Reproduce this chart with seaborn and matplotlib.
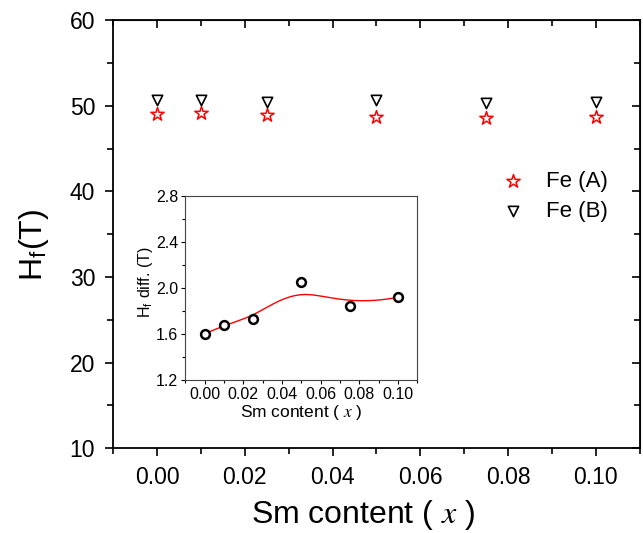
import numpy as np
import pandas as pd
import matplotlib
matplotlib.use("Agg")
import matplotlib.pyplot as plt
import seaborn as sns

# Sm content values
sm_content = [0.0, 0.01, 0.025, 0.05, 0.075, 0.10]
# hyperfine field (T) of the two Fe sites
hf_fe_a = [49.1, 49.2, 48.9, 48.7, 48.6, 48.7]
hf_fe_b = [50.65, 50.65, 50.4, 50.65, 50.3, 50.5]
# inset: field difference (T)
hf_diff = [1.60, 1.68, 1.73, 2.05, 1.84, 1.92]
tick_lbls = ['0.00', '0.02', '0.04', '0.06', '0.08', '0.10']


def bspline(px, py, n=300):
    # clamped cubic B-spline using the data points as control points
    m = len(px)
    knots = np.concatenate([[0] * 3, np.arange(m - 2), [m - 3] * 3]).astype(float)
    u = np.linspace(0, m - 3, n)
    u[-1] -= 1e-9
    B = np.zeros((n, len(knots) - 1))
    for i in range(len(knots) - 1):
        B[:, i] = (u >= knots[i]) & (u < knots[i + 1])
    for k in range(1, 4):
        Bn = np.zeros((n, len(knots) - 1 - k))
        for i in range(len(knots) - 1 - k):
            a = knots[i + k] - knots[i]
            b = knots[i + k + 1] - knots[i + 1]
            t1 = (u - knots[i]) / a * B[:, i] if a > 0 else 0
            t2 = (knots[i + k + 1] - u) / b * B[:, i + 1] if b > 0 else 0
            Bn[:, i] = t1 + t2
        B = Bn
    return B @ np.asarray(px), B @ np.asarray(py)


sns.set_style("ticks")
plt.rcParams['font.family'] = ['Liberation Sans', 'DejaVu Sans']
plt.rcParams['mathtext.fontset'] = 'stix'
plt.rcParams['text.color'] = 'black'
plt.rcParams['axes.labelcolor'] = 'black'
plt.rcParams['xtick.color'] = 'black'
plt.rcParams['ytick.color'] = 'black'

df = pd.DataFrame({'x': sm_content, 'A': hf_fe_a, 'B': hf_fe_b, 'diff': hf_diff})

fig = plt.figure(figsize=(6.43, 5.33), dpi=100)
ax = fig.add_axes([0.176, 0.159, 0.819, 0.803])

sns.scatterplot(data=df, x='x', y='A', marker='*', s=100, facecolor='white',
                edgecolor='red', linewidth=1.1, label='Fe (A)', ax=ax, zorder=3)
sns.scatterplot(data=df, x='x', y='B', marker='v', s=55, facecolor='white',
                edgecolor='black', linewidth=1.2, label='Fe (B)', ax=ax, zorder=3)

ax.set_xlim(-0.01, 0.11)
ax.set_ylim(10, 60)
ax.set_xticks(np.arange(0, 0.101, 0.02))
ax.set_xticklabels(tick_lbls)
ax.set_xticks(np.arange(-0.01, 0.111, 0.01), minor=True)
ax.set_yticks(np.arange(10, 61, 10))
ax.set_yticks(np.arange(10, 61, 5), minor=True)
ax.tick_params(which='major', direction='out', length=6, width=1.2, labelsize=16.5,
               colors='black', pad=7)
ax.tick_params(which='minor', direction='out', length=4, width=1.2)
for sp in ax.spines.values():
    sp.set_linewidth(1.3)
    sp.set_color('black')

# mirrored ticks on top and right, pointing inward
top = ax.secondary_xaxis('top')
top.set_xticks(np.arange(0, 0.101, 0.02))
top.set_xticks(np.arange(-0.01, 0.111, 0.01), minor=True)
top.tick_params(which='both', direction='in', labeltop=False, width=1.2)
top.tick_params(which='major', length=6)
top.tick_params(which='minor', length=4)
right = ax.secondary_yaxis('right')
right.set_yticks(np.arange(10, 61, 10))
right.set_yticks(np.arange(10, 61, 5), minor=True)
right.tick_params(which='both', direction='in', labelright=False, width=1.2)
right.tick_params(which='major', length=6)
right.tick_params(which='minor', length=4)

ax.set_xlabel(r'Sm content ( $x$ )', fontsize=23)
ax.xaxis.set_label_coords(0.474, -0.117)
ax.set_ylabel(r'H$_{\mathregular{f}}$(T)', fontsize=23)
ax.yaxis.set_label_coords(-0.118, 0.474)

ax.legend(loc='upper left', bbox_to_anchor=(0.70, 0.668), frameon=False,
          fontsize=16, handletextpad=0.5, labelspacing=0.4, borderaxespad=0)

# inset
ins = fig.add_axes([0.288, 0.287, 0.361, 0.345])
fx, fy = bspline(sm_content, hf_diff)
fit = pd.DataFrame({'x': fx, 'y': fy})
sns.lineplot(data=fit, x='x', y='y', color='red', linewidth=1.0, ax=ins, sort=False)
sns.scatterplot(data=df, x='x', y='diff', marker='o', s=40, facecolor='white',
                edgecolor='black', linewidth=1.8, ax=ins, zorder=3)
ins.set_xlim(-0.01, 0.11)
ins.set_ylim(1.2, 2.8)
ins.set_xticks(np.arange(0, 0.101, 0.02))
ins.set_xticklabels(tick_lbls)
ins.set_xticks(np.arange(-0.01, 0.111, 0.01), minor=True)
ins.set_yticks([1.2, 1.6, 2.0, 2.4, 2.8])
ins.set_yticks(np.arange(1.2, 2.81, 0.2), minor=True)
ins.tick_params(which='major', direction='out', length=3, width=0.8, labelsize=11.5, pad=2)
ins.tick_params(which='minor', direction='out', length=2, width=0.8)
for sp in ins.spines.values():
    sp.set_linewidth(0.8)
    sp.set_color('#444444')
ins.set_xlabel(r'Sm content ( $x$ )', fontsize=12.5, labelpad=1)
ins.set_ylabel(r'H$_{\mathregular{f}}$ diff. (T)', fontsize=11.5)
ins.yaxis.set_label_coords(-0.13, 0.53)

fig.savefig('out.png', dpi=100)
